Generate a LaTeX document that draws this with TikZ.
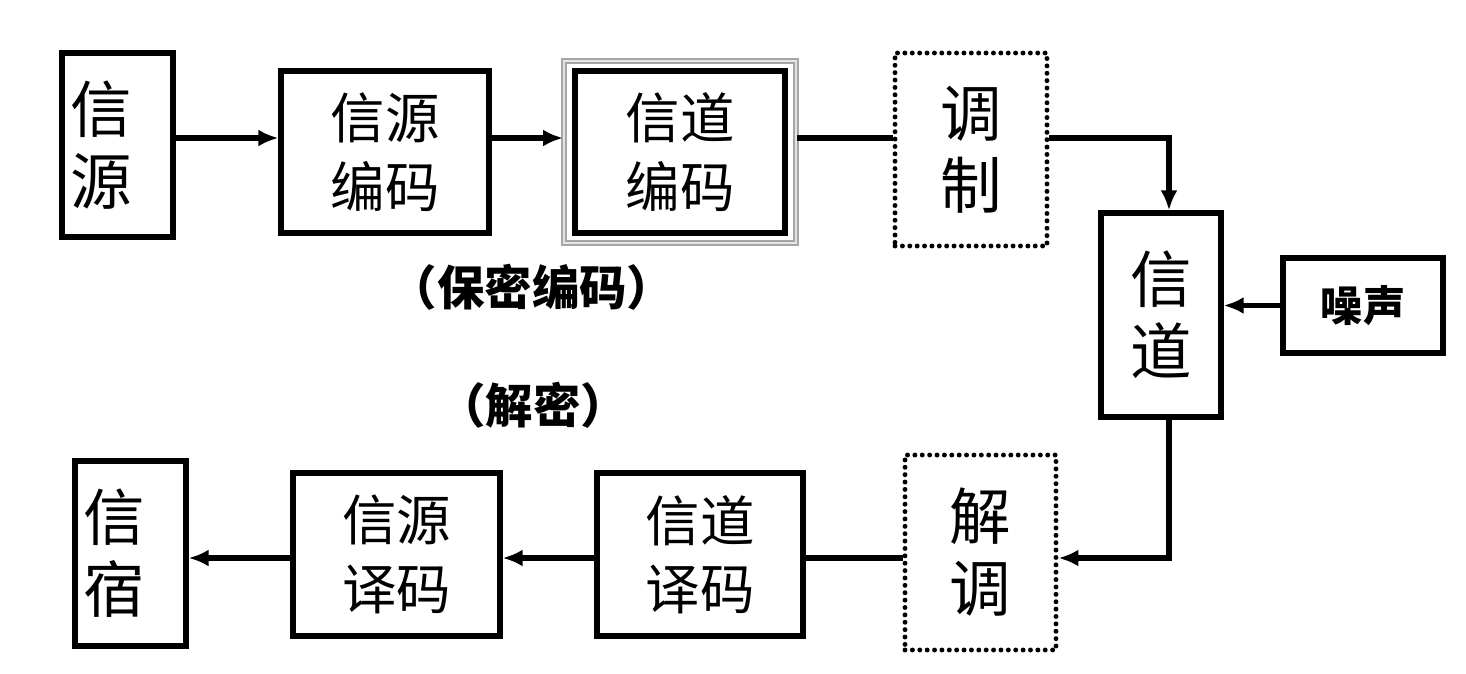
\documentclass[tikz,border=0pt]{standalone}
\usepackage{fontspec}
\setmainfont{Noto Sans CJK SC}
\usetikzlibrary{arrows.meta}

\begin{document}
\begin{tikzpicture}[x=0.02cm,y=-0.02cm,
  box/.style={draw,line width=3pt,inner sep=0pt,align=center,
    font=\fontsize{31}{39}\selectfont},
  bigbox/.style={box,font=\fontsize{35}{41}\selectfont},
  sidebox/.style={bigbox,align=left,inner xsep=0.16cm,text width=1.9cm},
  dotbox/.style={bigbox,line width=2.8pt,dash pattern=on 0pt off 4.2pt,line cap=round},
  note/.style={font=\bfseries\fontsize{27}{32}\selectfont},
  link/.style={line width=3pt},
  arr/.style={link,-{Latex[length=4mm,width=3.4mm]}}]
\useasboundingbox (0,0) rectangle (1466,673);

% sending side
\node (src) [sidebox,minimum height=3.68cm] at (117.5,145) {信\\源};
\node (srcenc) [box,minimum width=4.16cm,minimum height=3.24cm] at (385,152) {信源\\编码};
\node (chencout) [draw=gray!70,double=gray!20,double distance=1pt,line width=1.1pt,
  minimum width=4.64cm,minimum height=3.64cm] at (680,152) {};
\node (chenc) [box,minimum width=4.2cm,minimum height=3.24cm] at (680,152) {信道\\编码};
\node (mod) [dotbox,minimum width=3.04cm,minimum height=3.86cm] at (971,149.5) {调\\制};
\node (lblenc) [note] at (532,287) {（保密编码）};

% channel and noise
\node (chan) [bigbox,minimum width=2.4cm,minimum height=4.08cm] at (1161,315) {信\\道};
\node (noise) [box,font=\bfseries\fontsize{24}{28}\selectfont,
  minimum width=3.2cm,minimum height=1.9cm] at (1363,305.5) {噪声};

% receiving side
\node (demod) [dotbox,minimum width=3.02cm,minimum height=3.9cm] at (980.5,552.5) {解\\调};
\node (chdec) [box,minimum width=4.12cm,minimum height=3.26cm] at (700,554.5) {信道\\译码};
\node (srcdec) [box,minimum width=4.14cm,minimum height=3.26cm] at (396.5,554.5) {信源\\译码};
\node (sink) [sidebox,minimum height=3.7cm] at (130.5,553.5) {信\\宿};
\node (lbldec) [note] at (533,405) {（解密）};

\coordinate (row1) at (0,138);
\coordinate (row2) at (0,558);
\coordinate (col) at (1169,0);

\draw[arr] (src.east |- row1) -- (srcenc.west |- row1);
\draw[arr] (srcenc.east |- row1) -- (chencout.west |- row1);
\draw[link] (chencout.east |- row1) -- (mod.west |- row1);
\draw[arr] (mod.east |- row1) -| (chan.north -| col);
\draw[arr] (noise.west) -- (noise.west -| chan.east);
\draw[arr] (chan.south -| col) |- (demod.east |- row2);
\draw[link] (demod.west |- row2) -- (chdec.east |- row2);
\draw[arr] (chdec.west |- row2) -- (srcdec.east |- row2);
\draw[arr] (srcdec.west |- row2) -- (sink.east |- row2);
\end{tikzpicture}
\end{document}
